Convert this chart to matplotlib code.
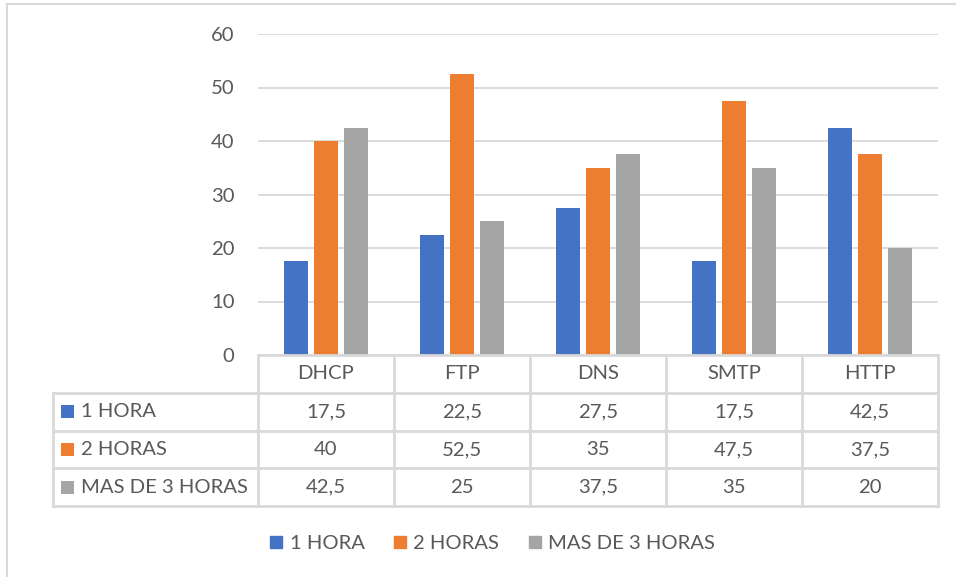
import numpy as np
import matplotlib.pyplot as plt
from matplotlib.lines import Line2D
from matplotlib.patches import Rectangle

# data
categorias = ["DHCP", "FTP", "DNS", "SMTP", "HTTP"]
series = ["1 HORA", "2 HORAS", "MAS DE 3 HORAS"]
una_hora = [17.5, 22.5, 27.5, 17.5, 42.5]
dos_horas = [40, 52.5, 35, 47.5, 37.5]
mas_tres = [42.5, 25, 37.5, 35, 20]
valores = [una_hora, dos_horas, mas_tres]
etiquetas = [["17,5", "22,5", "27,5", "17,5", "42,5"],
             ["40", "52,5", "35", "47,5", "37,5"],
             ["42,5", "25", "37,5", "35", "20"]]
colores = ["#4472C4", "#ED7D31", "#A5A5A5"]

plt.rcParams['font.family'] = ['Lato', 'DejaVu Sans']
txt = "#595959"
grid = "#D9D9D9"
fs = 14.6

W, H = 956, 577
fig = plt.figure(figsize=(W / 100, H / 100), dpi=100)


def box(x0, y0, x1, y1):
    # pixel box -> figure fraction
    return [x0 / W, 1 - y1 / H, (x1 - x0) / W, (y1 - y0) / H]


# chart area border (cropped on right/bottom)
fig.add_artist(Line2D([7 / W, 7 / W], [0, 1 - 4 / H], color=grid, lw=1.5,
                      transform=fig.transFigure))
fig.add_artist(Line2D([7 / W, 1], [1 - 4 / H, 1 - 4 / H], color=grid, lw=1.5,
                      transform=fig.transFigure))

# bars
ax = fig.add_axes(box(258, 34, 938, 355))
x = np.arange(len(categorias))
off = 30 / 136
bw = 24 / 136
for i, (vals, c) in enumerate(zip(valores, colores)):
    ax.bar(x + (i - 1) * off, vals, width=bw, color=c, zorder=3)
ax.set_xlim(-0.5, len(categorias) - 0.5)
ax.set_ylim(0, 60)
ax.set_yticks(range(0, 61, 10))
ax.yaxis.grid(True, color=grid, lw=1.3, zorder=0)
ax.tick_params(axis='y', length=0, pad=17, labelsize=fs, labelcolor=txt)
ax.set_xticks([])
for s in ax.spines.values():
    s.set_visible(False)

# data table
lab_w = 205 / 136
tb = fig.add_axes(box(53, 355, 938, 506))
tb.set_xlim(-0.5 - lab_w, len(categorias) - 0.5)
tb.set_ylim(4, 0)
tb.axis('off')
lk = dict(color=grid, lw=2, solid_capstyle='projecting', clip_on=False)
# header row lines
tb.plot([-0.5, len(categorias) - 0.5], [0, 0], **lk)
for r in range(1, 5):
    tb.plot([-0.5 - lab_w, len(categorias) - 0.5], [r, r], **lk)
tb.plot([-0.5 - lab_w, -0.5 - lab_w], [1, 4], **lk)
for j in range(len(categorias) + 1):
    tb.plot([j - 0.5, j - 0.5], [0, 4], **lk)
for j, cat in enumerate(categorias):
    tb.text(j, 0.5, cat, ha='center', va='center', fontsize=fs, color=txt)
for r, (nombre, c) in enumerate(zip(series, colores)):
    yy = r + 1.5
    tb.add_patch(Rectangle((-0.5 - lab_w + 8 / 136, yy - 0.17), 13 / 136, 0.34,
                           color=c, lw=0))
    tb.text(-0.5 - lab_w + 28 / 136, yy, nombre, ha='left', va='center',
            fontsize=fs, color=txt)
    for j in range(len(categorias)):
        tb.text(j, yy, etiquetas[r][j], ha='center', va='center',
                fontsize=fs, color=txt)

# legend
handles = [Line2D([], [], ls='', marker='s', markersize=9, color=c)
           for c in colores]
fig.legend(handles, series, loc='center', bbox_to_anchor=(492 / W, 1 - 543 / H),
           ncol=3, frameon=False, fontsize=fs, labelcolor=txt,
           handlelength=0.7, handletextpad=0.3, columnspacing=1.4)

fig.savefig("out.png", dpi=100)
